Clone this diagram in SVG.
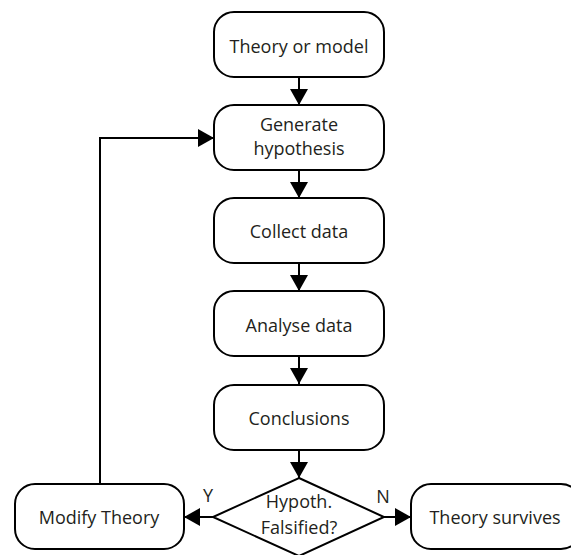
<svg xmlns="http://www.w3.org/2000/svg" width="571" height="555" viewBox="0 0 571 555">
  <style>
    .box { fill: #ffffff; stroke: #000000; stroke-width: 2; }
    .lbl { font-family: "Open Sans", "Noto Sans", sans-serif; font-size: 18px; fill: #231f20; text-anchor: middle; }
    .edge { fill: none; stroke: #000000; stroke-width: 2; marker-end: url(#arrow); }
  </style>
  <defs>
    <marker id="arrow" viewBox="0 0 16 18" refX="16" refY="9" markerWidth="16" markerHeight="18" markerUnits="userSpaceOnUse" orient="auto">
      <path d="M0,0 L16,9 L0,18 z" fill="#000000"/>
    </marker>
  </defs>
  <rect width="571" height="555" fill="#ffffff"/>

  <!-- connectors -->
  <g id="connectors">
    <path class="edge" d="M299,77 V105"/>
    <path class="edge" d="M299,170 V198"/>
    <path class="edge" d="M299,263 V291"/>
    <path class="edge" d="M299,356 V384"/>
    <path class="edge" d="M299,450 V478"/>
    <path class="edge" d="M213,517 H184"/>
    <path class="edge" d="M384,517 H411"/>
    <path class="edge" d="M100,484 V138 H214"/>
    <text class="lbl" x="208" y="502">Y</text>
    <text class="lbl" x="383" y="503">N</text>
  </g>

  <g id="theory">
    <rect class="box" x="214" y="12" width="170" height="65" rx="20"/>
    <text class="lbl" x="299" y="53">Theory or model</text>
  </g>

  <g id="generate">
    <rect class="box" x="214" y="105" width="170" height="65" rx="20"/>
    <text class="lbl" x="299" y="131">Generate</text>
    <text class="lbl" x="299" y="155">hypothesis</text>
  </g>

  <g id="collect">
    <rect class="box" x="214" y="198" width="170" height="65" rx="20"/>
    <text class="lbl" x="299" y="238">Collect data</text>
  </g>

  <g id="analyse">
    <rect class="box" x="214" y="291" width="170" height="65" rx="20"/>
    <text class="lbl" x="299" y="332">Analyse data</text>
  </g>

  <g id="conclusions">
    <rect class="box" x="214" y="385" width="170" height="65" rx="20"/>
    <text class="lbl" x="299" y="425">Conclusions</text>
  </g>

  <g id="decision">
    <polygon class="box" points="299,478 384,517 299,556 213,517"/>
    <text class="lbl" x="299" y="508">Hypoth.</text>
    <text class="lbl" x="299" y="534">Falsified?</text>
  </g>

  <g id="modify">
    <rect class="box" x="15" y="484" width="169" height="65" rx="20"/>
    <text class="lbl" x="99" y="524">Modify Theory</text>
  </g>

  <g id="survives">
    <rect class="box" x="411" y="484" width="170" height="65" rx="20"/>
    <text class="lbl" x="495" y="524">Theory survives</text>
  </g>
</svg>
